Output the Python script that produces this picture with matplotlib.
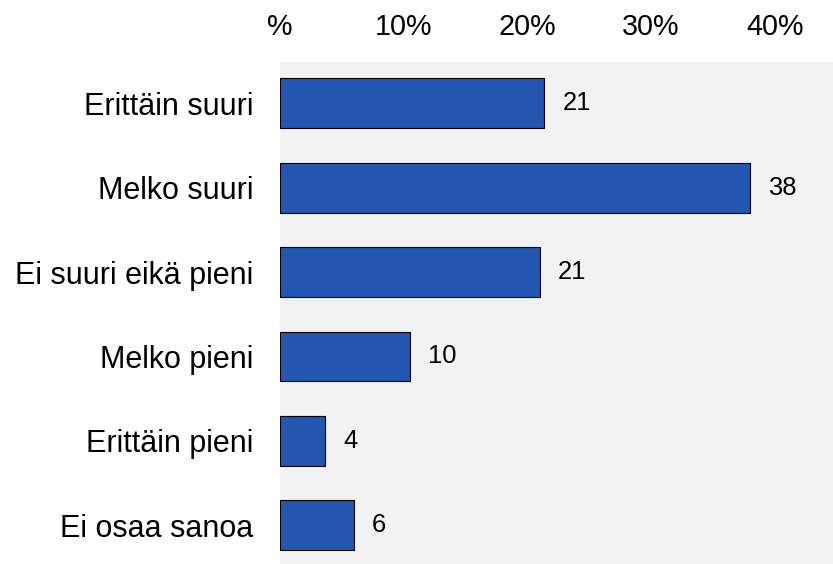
import matplotlib
matplotlib.use("Agg")
import matplotlib.pyplot as plt

plt.rcParams['font.family'] = ['Liberation Sans', 'DejaVu Sans']

categories = ["Erittäin suuri", "Melko suuri", "Ei suuri eikä pieni",
              "Melko pieni", "Erittäin pieni", "Ei osaa sanoa"]
values = [21.4, 38.0, 21.0, 10.5, 3.7, 6.0]
value_labels = ["21", "38", "21", "10", "4", "6"]
tick_values = [0, 10, 20, 30, 40]
tick_labels = ["%", "10%", "20%", "30%", "40%"]

fig = plt.figure(figsize=(8.33, 5.64), dpi=100)
ax = fig.add_axes([279.5 / 833, 0, 1 - 279.5 / 833, 1 - 62 / 564])
ax.set_facecolor("#f2f2f2")

y = list(range(len(categories)))
ax.barh(y, values, height=0.59, color="#2356b0", edgecolor="black", linewidth=0.8)

for yi, v, lab in zip(y, values, value_labels):
    ax.annotate(lab, (v, yi), xytext=(13, 0), textcoords="offset points",
                va="center", ha="left", fontsize=18.4)

ax.set_xlim(0, 44.7)
ax.set_ylim(5.46, -0.49)
ax.set_yticks(y)
ax.set_yticklabels(categories, fontsize=22)
ax.set_xticks(tick_values)
ax.set_xticklabels(tick_labels, fontsize=20.7)
ax.xaxis.tick_top()
ax.tick_params(axis="x", length=0, pad=15)
ax.tick_params(axis="y", length=0, pad=19)
for s in ax.spines.values():
    s.set_visible(False)

fig.savefig("out.png", dpi=100)
